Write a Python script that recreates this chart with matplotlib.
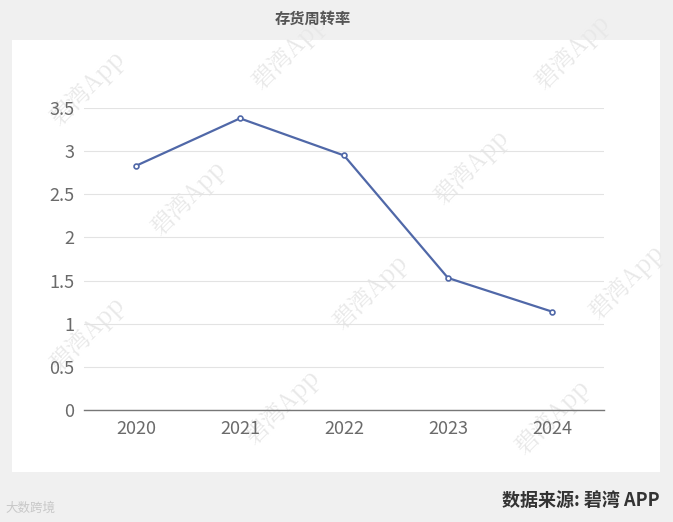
import numpy as np
import matplotlib.pyplot as plt
from matplotlib.patches import Rectangle

plt.rcParams['font.family'] = ['Noto Sans CJK SC', 'DejaVu Sans']

years = ["2020", "2021", "2022", "2023", "2024"]
turnover = [2.83, 3.38, 2.95, 1.53, 1.14]
y_ticks = [0, 0.5, 1, 1.5, 2, 2.5, 3, 3.5]
y_labels = ["0", "0.5", "1", "1.5", "2", "2.5", "3", "3.5"]

fig = plt.figure(figsize=(6.73, 5.22), dpi=100)
fig.patch.set_facecolor("#f0f0f0")

# background layer: white panel + faint watermarks
bg = fig.add_axes([0, 0, 1, 1], zorder=-1)
bg.set_xlim(0, 1); bg.set_ylim(0, 1); bg.axis("off")
bg.add_patch(Rectangle((0.0178, 0.0958), 0.963, 0.8276, facecolor="white", edgecolor="none"))
wm_pos = [(0.13, 0.83), (0.43, 0.90), (0.85, 0.90), (0.28, 0.62), (0.70, 0.68),
          (0.13, 0.36), (0.55, 0.44), (0.93, 0.46), (0.42, 0.22), (0.82, 0.20)]
for wx, wy in wm_pos:
    bg.text(wx, wy, "碧湾App", rotation=45, fontsize=17, color="#e8e8e8",
            ha="center", va="center",
            family=['Noto Serif CJK SC', 'Noto Sans CJK SC', 'DejaVu Sans'])

ax = fig.add_axes([0.1248, 0.2146, 0.7727, 0.5785])
ax.set_facecolor("none")
x = np.arange(len(years))
ax.plot(x, turnover, color="#5068a8", lw=1.6, marker="o", ms=3.5,
        mfc="white", mec="#5068a8", mew=1.2, zorder=3)

ax.set_xlim(-0.5, len(years) - 0.5)
ax.set_ylim(0, 3.5)
ax.set_yticks(y_ticks)
ax.set_yticklabels(y_labels)
ax.set_xticks(x)
ax.set_xticklabels(years)
ax.grid(axis="y", color="#e3e3e3", lw=0.8)
ax.set_axisbelow(True)
for s in ["top", "right", "left"]:
    ax.spines[s].set_visible(False)
ax.spines["bottom"].set_color("#777777")
ax.spines["bottom"].set_linewidth(1.0)
ax.tick_params(axis="both", length=0, labelsize=13, colors="#6a6a6a")
ax.tick_params(axis="y", pad=7)
ax.tick_params(axis="x", pad=7)

fig.text(0.465, 0.963, "存货周转率", ha="center", va="center", fontsize=11,
         fontweight="bold", color="#555555")
fig.text(0.980, 0.041, "数据来源: 碧湾 APP", ha="right", va="center", fontsize=13,
         fontweight="bold", color="#333333")
fig.text(0.008, 0.027, "大数跨境", ha="left", va="center", fontsize=9,
         color="#c8c8c8")

fig.savefig("out.png", dpi=100, facecolor=fig.get_facecolor())
